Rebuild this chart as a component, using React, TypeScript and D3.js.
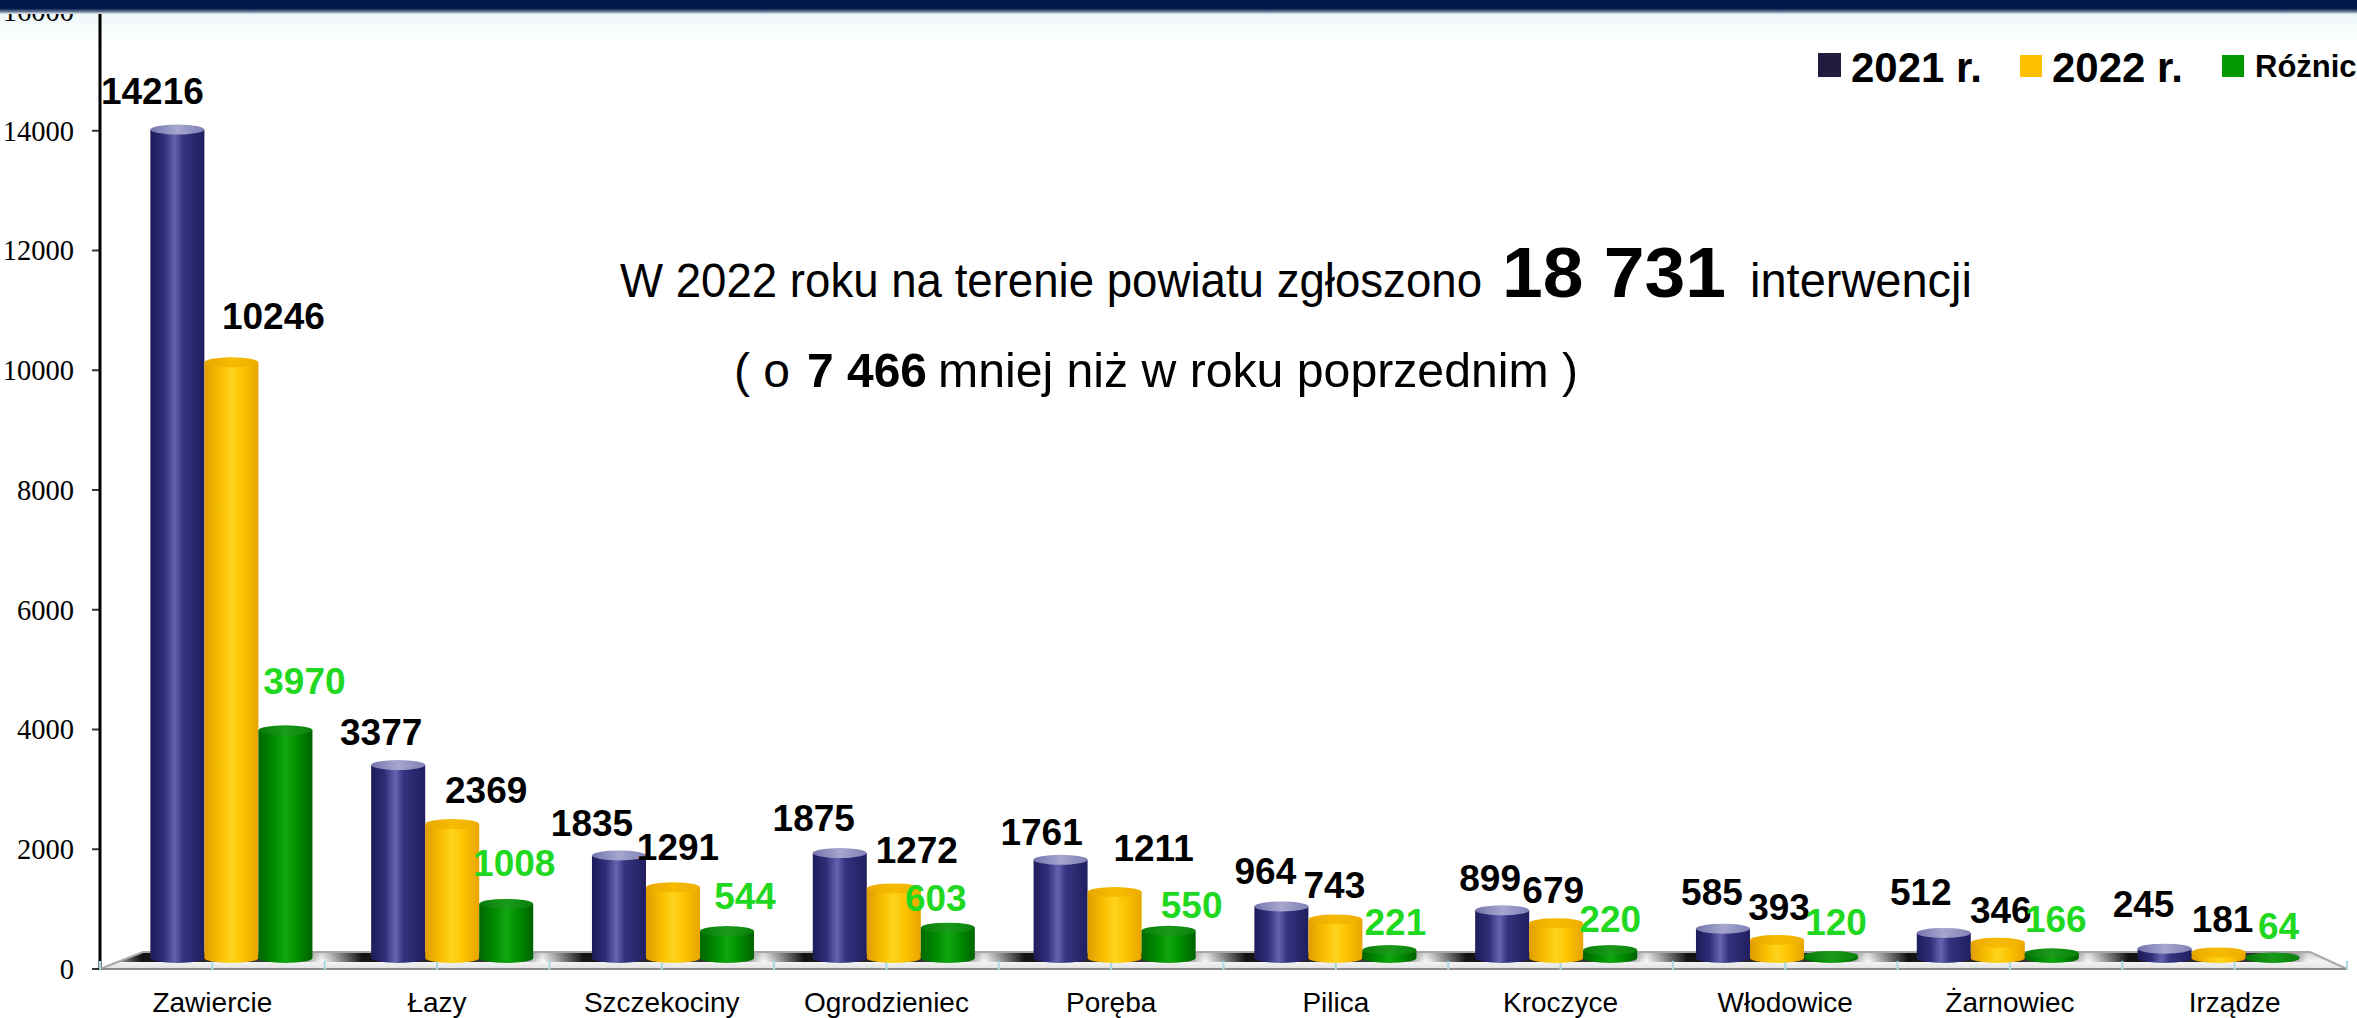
import React from 'react';
import * as d3 from 'd3';

const categories = ['Zawiercie', 'Łazy', 'Szczekociny', 'Ogrodzieniec', 'Poręba', 'Pilica', 'Kroczyce', 'Włodowice', 'Żarnowiec', 'Irządze'];
const values2021 = [14216, 3377, 1835, 1875, 1761, 964, 899, 585, 512, 245];
const values2022 = [10246, 2369, 1291, 1272, 1211, 743, 679, 393, 346, 181];
const valuesDiff = [3970, 1008, 544, 603, 550, 221, 220, 120, 166, 64];
const seriesNames = ['2021 r.', '2022 r.', 'Różnica'];
const yTickValues = [0, 2000, 4000, 6000, 8000, 10000, 12000, 14000, 16000];

// layout only: label nudges [dx, dy] relative to each bar's top centre
const nudge2021 = [[-25, -21], [-17, -15], [-27, -14], [-26, -17], [-19, -10], [-16, -17], [-12, -14], [-11, -19], [-23, -23], [-21, -27]];
const nudge2022 = [[42, -28], [34, -16], [5, -22], [23, -20], [39, -26], [-1, -16], [-3, -15], [2, -15], [3, -15], [4, -15]];
const nudgeDiff = [[19, -31], [8, -23], [18, -17], [-12, -12], [23, -8], [6, -10], [0, -13], [5, -16], [4, -16], [6, -15]];

const W = 2357;
const H = 1018;
const SANS = '"Liberation Sans", Arial, sans-serif';
const SERIF = '"Liberation Serif", "Times New Roman", serif';

const seriesStyle = [
  { body: 'gBlue', top: 'tBlue', legend: '#231c3f', label: '#000000' },
  { body: 'gYellow', top: 'tYellow', legend: '#ffc000', label: '#000000' },
  { body: 'gGreen', top: 'tGreen', legend: '#009a00', label: '#1fd81f' },
];

function Cylinder({ x, w, top, base, body, topFill }: any) {
  const ry = 5;
  const rx = w / 2;
  const yt = Math.min(top + ry, base - 0.5);
  const d = `M${x},${yt} L${x},${base} A${rx},${ry} 0 0 0 ${x + w},${base} L${x + w},${yt} Z`;
  return (
    <g>
      <path d={d} fill={`url(#${body})`} />
      <ellipse cx={x + rx} cy={yt} rx={rx} ry={ry} fill={`url(#${topFill})`} />
    </g>
  );
}

export default function App() {
  const yAxis = d3.scaleLinear().domain([0, 16000]).range([969, 11]);
  const barY = d3.scaleLinear().domain([0, 16000]).range([958, 20]);
  const xFront = d3.scaleBand<string>().domain(categories).range([100, 2347]).padding(0);
  const xBar = d3.scaleBand<string>().domain(categories).range([121, 2329]).paddingInner(0.266).paddingOuter(0.133);
  const xSeries = d3.scaleBand<string>().domain(seriesNames).range([0, xBar.bandwidth()]).padding(0);
  const series = [values2021, values2022, valuesDiff];
  const nudges = [nudge2021, nudge2022, nudgeDiff];
  const base = 958;
  const floorFront = 969;
  const floorBack = 952;
  const floorPts = `${100},${floorFront} ${2347},${floorFront} ${2310},${floorBack} ${143},${floorBack}`;
  const fbw = xFront.bandwidth();

  const halfTicks: number[] = [];
  categories.forEach((c) => {
    halfTicks.push(xFront(c)!);
    halfTicks.push(xFront(c)! + fbw / 2);
  });
  halfTicks.push(xFront.range()[1]);

  return (
    <svg width={W} height={H} style={{ position: 'fixed', left: 0, top: 0, background: '#fff' }} xmlns="http://www.w3.org/2000/svg">
      <defs>
        <linearGradient id="gBlue" x1="0" x2="1" y1="0" y2="0">
          <stop offset="0" stopColor="#1e1c58" />
          <stop offset="0.25" stopColor="#2e2d78" />
          <stop offset="0.45" stopColor="#6464b0" />
          <stop offset="0.6" stopColor="#34347f" />
          <stop offset="1" stopColor="#201e5e" />
        </linearGradient>
        <linearGradient id="tBlue" x1="0" x2="1" y1="0" y2="0">
          <stop offset="0" stopColor="#7474ad" />
          <stop offset="0.5" stopColor="#a6a6cf" />
          <stop offset="1" stopColor="#8080b6" />
        </linearGradient>
        <linearGradient id="gYellow" x1="0" x2="1" y1="0" y2="0">
          <stop offset="0" stopColor="#e09c00" />
          <stop offset="0.3" stopColor="#f8c000" />
          <stop offset="0.5" stopColor="#ffd41e" />
          <stop offset="0.7" stopColor="#fcc400" />
          <stop offset="1" stopColor="#e8a400" />
        </linearGradient>
        <linearGradient id="tYellow" x1="0" x2="1" y1="0" y2="0">
          <stop offset="0" stopColor="#eaa800" />
          <stop offset="0.5" stopColor="#f6bc00" />
          <stop offset="1" stopColor="#eeae00" />
        </linearGradient>
        <linearGradient id="gGreen" x1="0" x2="1" y1="0" y2="0">
          <stop offset="0" stopColor="#006800" />
          <stop offset="0.3" stopColor="#008c00" />
          <stop offset="0.5" stopColor="#10a810" />
          <stop offset="0.7" stopColor="#009000" />
          <stop offset="1" stopColor="#006200" />
        </linearGradient>
        <linearGradient id="tGreen" x1="0" x2="1" y1="0" y2="0">
          <stop offset="0" stopColor="#087a08" />
          <stop offset="0.5" stopColor="#1a9a1a" />
          <stop offset="1" stopColor="#0a800a" />
        </linearGradient>
        <linearGradient id="floorFill" x1="0" x2="0" y1="0" y2="1">
          <stop offset="0" stopColor="#cfcfcf" />
          <stop offset="0.55" stopColor="#f4f4f4" />
          <stop offset="1" stopColor="#e2e2e2" />
        </linearGradient>
        <linearGradient id="shadowG" x1="0" x2="1" y1="0" y2="0">
          <stop offset="0" stopColor="#000" stopOpacity="0" />
          <stop offset="0.18" stopColor="#000" stopOpacity="0.92" />
          <stop offset="0.85" stopColor="#111" stopOpacity="0.8" />
          <stop offset="1" stopColor="#000" stopOpacity="0" />
        </linearGradient>
        <linearGradient id="topBar" x1="0" x2="0" y1="0" y2="1">
          <stop offset="0" stopColor="#011a4e" />
          <stop offset="0.6" stopColor="#011a4e" />
          <stop offset="0.8" stopColor="#5a6a88" />
          <stop offset="1" stopColor="#e4edf2" />
        </linearGradient>
        <linearGradient id="topFade" x1="0" x2="0" y1="0" y2="1">
          <stop offset="0" stopColor="#eef7f9" />
          <stop offset="1" stopColor="#ffffff" />
        </linearGradient>
        <clipPath id="floorClip">
          <polygon points={floorPts} />
        </clipPath>
      </defs>

      <rect x={0} y={0} width={W} height={H} fill="#ffffff" />
      <rect x={0} y={14} width={W} height={30} fill="url(#topFade)" />

      {/* y axis */}
      <g>
        {yTickValues.map((t) => (
          <g key={t}>
            <line x1={92} x2={100} y1={yAxis(t)} y2={yAxis(t)} stroke="#333" strokeWidth={2} />
            <text x={74} y={yAxis(t)} dy="0.35em" textAnchor="end" fontFamily={SERIF} fontSize={28.5} fill="#000">
              {t}
            </text>
          </g>
        ))}
        <line x1={100} x2={100} y1={yAxis(16000)} y2={yAxis(0)} stroke="#000" strokeWidth={3} />
      </g>

      {/* floor */}
      <polygon points={floorPts} fill="url(#floorFill)" />
      <g clipPath="url(#floorClip)">
        {categories.map((c) => (
          <rect key={c} x={xBar(c)! - 48} y={floorBack} width={xBar.bandwidth() + 56} height={10} fill="url(#shadowG)" />
        ))}
      </g>
      <polygon points={floorPts} fill="none" stroke="#a8a8a8" strokeWidth={2} />
      <line x1={100} x2={2347} y1={floorFront} y2={floorFront} stroke="#8c8c8c" strokeWidth={2} />
      {halfTicks.map((x, i) => (
        <line key={i} x1={x} x2={x} y1={961} y2={970} stroke="#a6d8e2" strokeWidth={2} />
      ))}

      {/* bars */}
      {categories.map((c, i) => (
        <g key={c}>
          {series.map((vals, s) => (
            <Cylinder
              key={s}
              x={xBar(c)! + xSeries(seriesNames[s])!}
              w={xSeries.bandwidth()}
              top={barY(vals[i])}
              base={base}
              body={seriesStyle[s].body}
              topFill={seriesStyle[s].top}
            />
          ))}
        </g>
      ))}

      {/* value labels */}
      {categories.map((c, i) => (
        <g key={c}>
          {series.map((vals, s) => (
            <text
              key={s}
              x={xBar(c)! + xSeries(seriesNames[s])! + xSeries.bandwidth() / 2 + nudges[s][i][0]}
              y={barY(vals[i]) + nudges[s][i][1]}
              textAnchor="middle"
              fontFamily={SANS}
              fontWeight="bold"
              fontSize={37}
              fill={seriesStyle[s].label}
            >
              {vals[i]}
            </text>
          ))}
        </g>
      ))}

      {/* category labels */}
      {categories.map((c) => (
        <text key={c} x={xFront(c)! + fbw / 2} y={1012} textAnchor="middle" fontFamily={SANS} fontSize={28} fill="#000">
          {c}
        </text>
      ))}

      {/* annotation */}
      <text y={297} fontFamily={SANS} fontSize={49} fill="#000" style={{ whiteSpace: 'pre' }}>
        <tspan x={620} textLength={862} lengthAdjust="spacingAndGlyphs">W 2022 roku na terenie powiatu zgłoszono</tspan>
        <tspan x={1502} fontWeight="bold" fontSize={70} textLength={224} lengthAdjust="spacingAndGlyphs">18 731</tspan>
        <tspan x={1750} textLength={222} lengthAdjust="spacingAndGlyphs">interwencji</tspan>
      </text>
      <text y={387} fontFamily={SANS} fontSize={48} fill="#000" style={{ whiteSpace: 'pre' }}>
        <tspan x={734}>( o</tspan>
        <tspan x={807} fontWeight="bold" fontSize={49} textLength={120} lengthAdjust="spacingAndGlyphs">7 466</tspan>
        <tspan x={938} textLength={640} lengthAdjust="spacingAndGlyphs">mniej niż w roku poprzednim )</tspan>
      </text>

      {/* legend */}
      <g>
        <rect x={1818} y={53} width={23} height={24} fill={seriesStyle[0].legend} />
        <text x={1851} y={82} fontFamily={SANS} fontWeight="bold" fontSize={42} fill="#000">{seriesNames[0]}</text>
        <rect x={2020} y={55} width={22} height={22} fill={seriesStyle[1].legend} />
        <text x={2052} y={82} fontFamily={SANS} fontWeight="bold" fontSize={42} fill="#000">{seriesNames[1]}</text>
        <rect x={2222} y={55} width={22} height={22} fill={seriesStyle[2].legend} />
        <text x={2255} y={77} fontFamily={SANS} fontWeight="bold" fontSize={31} fill="#000">{seriesNames[2]}</text>
      </g>

      {/* top banner */}
      <rect x={0} y={0} width={W} height={14} fill="url(#topBar)" />
    </svg>
  );
}
